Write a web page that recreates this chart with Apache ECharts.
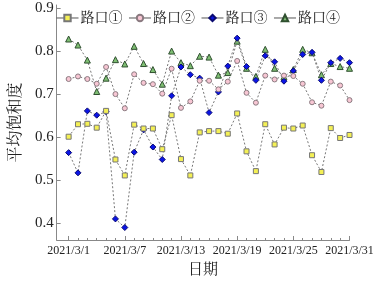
<!DOCTYPE html>
<html>
<head>
<meta charset="utf-8">
<script src="https://cdn.jsdelivr.net/npm/echarts@6/dist/echarts.min.js"></script>
<style>
  html, body { margin: 0; padding: 0; background: #fff; }
  #main { width: 377px; height: 283px; }
</style>
</head>
<body>
<div id="main"></div>
<script>
// 日期（x轴）
var dates = ['2021/3/1','2021/3/2','2021/3/3','2021/3/4','2021/3/5','2021/3/6','2021/3/7','2021/3/8',
             '2021/3/9','2021/3/10','2021/3/11','2021/3/12','2021/3/13','2021/3/14','2021/3/15','2021/3/16',
             '2021/3/17','2021/3/18','2021/3/19','2021/3/20','2021/3/21','2021/3/22','2021/3/23','2021/3/24',
             '2021/3/25','2021/3/26','2021/3/27','2021/3/28','2021/3/29','2021/3/30','2021/3/31'];
var xLabelIdx = [0, 6, 12, 18, 24, 30];
var yLabels = [0.4, 0.5, 0.6, 0.7, 0.8, 0.9];

var names = ['路口①', '路口②', '路口③', '路口④'];
var road1 = [0.601,0.630,0.631,0.622,0.661,0.548,0.511,0.629,0.620,0.620,
             0.572,0.651,0.549,0.511,0.611,0.614,0.614,0.608,0.655,0.567,
             0.521,0.630,0.583,0.622,0.620,0.627,0.558,0.519,0.621,0.598,0.605];
var road2 = [0.735,0.741,0.735,0.724,0.763,0.700,0.667,0.746,0.726,0.723,
             0.701,0.759,0.668,0.683,0.731,0.731,0.711,0.729,0.777,0.703,
             0.680,0.743,0.734,0.743,0.742,0.724,0.681,0.673,0.729,0.720,0.686];
var road3 = [0.564,0.517,0.661,0.651,0.659,0.410,0.390,0.565,0.617,0.577,
             0.548,0.696,0.763,0.745,0.737,0.657,0.705,0.765,0.830,0.764,
             0.732,0.789,0.775,0.730,0.754,0.792,0.797,0.732,0.773,0.783,0.773];
var road4 = [0.828,0.814,0.779,0.706,0.737,0.780,0.770,0.811,0.771,0.757,
             0.723,0.800,0.773,0.766,0.788,0.786,0.744,0.750,0.823,0.760,
             0.741,0.804,0.760,0.740,0.757,0.804,0.796,0.745,0.771,0.764,0.760];

var serif = "'Liberation Serif', 'Noto Serif CJK SC', 'Noto Sans CJK SC', serif";
var chart = echarts.init(document.getElementById('main'));

function toPts(arr) {
    return arr.map(function (v, i) { return [i, v]; });
}
function mkSeries(name, data, symbol, fill, border, size, z) {
    return {
        name: name,
        type: 'line',
        data: toPts(data),
        symbol: symbol,
        symbolSize: size,
        showAllSymbol: true,
        z: z,
        animation: false,
        lineStyle: { color: '#777', width: 1, type: [2, 2] },
        itemStyle: { color: fill, borderColor: border, borderWidth: 1 }
    };
}

var allDays = dates.map(function (d, i) { return i; });

var option = {
    animation: false,
    textStyle: { fontFamily: serif },
    legend: {
        data: names,
        left: 56,
        top: 11,
        padding: 0,
        itemWidth: 22,
        itemHeight: 8,
        itemGap: 6,
        textStyle: { fontFamily: serif, fontSize: 14, color: '#222', padding: [0, 0, 0, -3] },
        lineStyle: { type: 'solid', color: '#555', width: 1 }
    },
    grid: { left: 45, right: 27.5, top: 5, bottom: 37.5, containLabel: false },
    xAxis: [{
        type: 'value',
        min: -1.28,
        max: 30,
        name: '日期',
        nameLocation: 'middle',
        nameGap: 23,
        nameTextStyle: { fontFamily: serif, fontSize: 15, color: '#222' },
        splitLine: { show: false },
        axisLine: { show: true, onZero: false, lineStyle: { color: '#888', width: 1 } },
        axisTick: { show: true, inside: true, length: 4, customValues: xLabelIdx, lineStyle: { color: '#888' } },
        axisLabel: {
            customValues: xLabelIdx,
            margin: 5,
            fontFamily: serif, fontSize: 12, color: '#222',
            formatter: function (v) { return dates[Math.round(v)]; }
        }
    }, {
        type: 'value',
        min: -1.28,
        max: 30,
        position: 'bottom',
        splitLine: { show: false },
        axisLine: { show: false },
        axisLabel: { show: false },
        axisTick: { show: true, inside: true, length: 2, customValues: allDays, lineStyle: { color: '#888' } }
    }],
    yAxis: {
        type: 'value',
        min: 0.361,
        max: 0.907,
        name: '平均饱和度',
        nameLocation: 'middle',
        nameGap: 26,
        nameTextStyle: { fontFamily: serif, fontSize: 16, color: '#222' },
        splitLine: { show: false },
        axisLine: { show: true, onZero: false, lineStyle: { color: '#888', width: 1 } },
        axisTick: { show: true, inside: true, length: 4, customValues: yLabels, lineStyle: { color: '#888' } },
        axisLabel: {
            customValues: yLabels,
            margin: 3,
            fontFamily: serif, fontSize: 15, color: '#222',
            formatter: function (v) { return v.toFixed(1); }
        }
    },
    series: [
        mkSeries(names[0], road1, 'rect', '#f4f055', '#777', 5, 5),
        mkSeries(names[1], road2, 'circle', '#f7c6d3', '#8a7a80', 5, 4),
        mkSeries(names[2], road3, 'diamond', '#0a14e6', '#0a0a70', 6, 3),
        mkSeries(names[3], road4, 'triangle', '#7fbf73', '#2f4f2f', 6, 2)
    ]
};
chart.setOption(option);
</script>
</body>
</html>
